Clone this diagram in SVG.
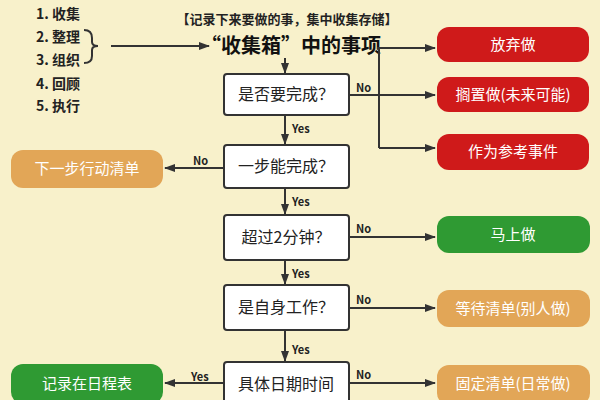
<svg xmlns="http://www.w3.org/2000/svg" width="600" height="400" viewBox="0 0 600 400">
<defs>
<marker id="ah" markerWidth="11" markerHeight="8" refX="10" refY="4" orient="auto" markerUnits="userSpaceOnUse"><path d="M0,0 L11,4 L0,8 Z" fill="#333"/></marker>
<style>
text{font-family:"Noto Sans CJK SC","Liberation Sans",sans-serif;}
.q rect{fill:#fff;stroke:#333;stroke-width:2}
.q text{font-size:16px;fill:#222;text-anchor:middle}
.o text{font-size:15px;fill:#fff;text-anchor:middle}
.lab{font-size:11px;fill:#222;font-weight:bold}
.ln{fill:none;stroke:#333;stroke-width:2}
.ar{fill:none;stroke:#333;stroke-width:2;marker-end:url(#ah)}
.red{fill:#cf1a1a}.grn{fill:#2f9a33}.org{fill:#e2a657}
.li{font-size:14px;fill:#222;font-weight:bold}
</style>
</defs>
<rect width="600" height="400" fill="#f8f1cb"/>
<g id="steps">
<text class="li" x="36" y="19">1. 收集</text>
<text class="li" x="36" y="42">2. 整理</text>
<text class="li" x="36" y="65">3. 组织</text>
<text class="li" x="36" y="89">4. 回顾</text>
<text class="li" x="36" y="111">5. 执行</text>
<path class="ln" stroke-width="1.5" d="M84,30 Q92,30 92,38 L92,42 Q92,46 98,46 Q92,46 92,50 L92,56 Q92,63 84,63"/>
</g>
<text x="287" y="24" font-size="13" font-weight="bold" fill="#222" text-anchor="middle">【记录下来要做的事，集中收集存储】</text>
<g id="inbox"><text x="291" y="53" font-size="20" font-weight="bold" fill="#111" text-anchor="middle">“收集箱”中的事项</text></g>
<g id="connectors">
<path class="ar" d="M111,46 L209,46"/>
<path class="ar" d="M285,58 L285,73"/>
<path class="ln" d="M349,95 L379,95 M377,48 L379,48 L379,148"/>
<path class="ar" d="M379,48 L435,48"/>
<path class="ar" d="M379,95 L435,95"/>
<path class="ar" d="M379,148 L435,148"/>
<path class="ar" d="M285,115 L285,144"/>
<path class="ar" d="M224,168 L165,168"/>
<path class="ar" d="M285,188 L285,214"/>
<path class="ar" d="M349,237 L435,237"/>
<path class="ar" d="M285,260 L285,284"/>
<path class="ar" d="M349,308 L435,308"/>
<path class="ar" d="M285,330 L285,361"/>
<path class="ar" d="M224,383 L165,383"/>
<path class="ar" d="M349,383 L435,383"/>
<text class="lab" x="356" y="92">No</text>
<text class="lab" x="292" y="133">Yes</text>
<text class="lab" x="193" y="165">No</text>
<text class="lab" x="292" y="206">Yes</text>
<text class="lab" x="356" y="233">No</text>
<text class="lab" x="292" y="278">Yes</text>
<text class="lab" x="356" y="304">No</text>
<text class="lab" x="292" y="354">Yes</text>
<text class="lab" x="191" y="381">Yes</text>
<text class="lab" x="356" y="379">No</text>
</g>
<g id="q1" class="q"><rect x="224" y="74" width="125" height="41" rx="3"/><text x="286" y="100">是否要完成？</text></g>
<g id="q2" class="q"><rect x="224" y="145" width="125" height="43" rx="3"/><text x="286" y="172">一步能完成？</text></g>
<g id="q3" class="q"><rect x="224" y="215" width="125" height="45" rx="3"/><text x="286" y="243">超过2分钟？</text></g>
<g id="q4" class="q"><rect x="224" y="285" width="125" height="45" rx="3"/><text x="286" y="313">是自身工作？</text></g>
<g id="q5" class="q"><rect x="224" y="362" width="125" height="45" rx="3"/><text x="286" y="390">具体日期时间</text></g>
<g id="r1" class="o"><rect class="red" x="437" y="27" width="152" height="35" rx="12"/><text x="513" y="50">放弃做</text></g>
<g id="r2" class="o"><rect class="red" x="437" y="77" width="152" height="35" rx="12"/><text x="513" y="100">搁置做(未来可能)</text></g>
<g id="r3" class="o"><rect class="red" x="437" y="134" width="152" height="36" rx="12"/><text x="513" y="157">作为参考事件</text></g>
<g id="nextlist" class="o"><rect class="org" x="11" y="150" width="152" height="38" rx="12"/><text x="87" y="174">下一步行动清单</text></g>
<g id="doit" class="o"><rect class="grn" x="437" y="216" width="153" height="37" rx="12"/><text x="513" y="240">马上做</text></g>
<g id="wait" class="o"><rect class="org" x="437" y="290" width="153" height="37" rx="12"/><text x="513" y="314">等待清单(别人做)</text></g>
<g id="cal" class="o"><rect class="grn" x="11" y="364" width="152" height="40" rx="12"/><text x="87" y="389">记录在日程表</text></g>
<g id="fixed" class="o"><rect class="org" x="437" y="365" width="153" height="40" rx="12"/><text x="513" y="389">固定清单(日常做)</text></g>
</svg>
